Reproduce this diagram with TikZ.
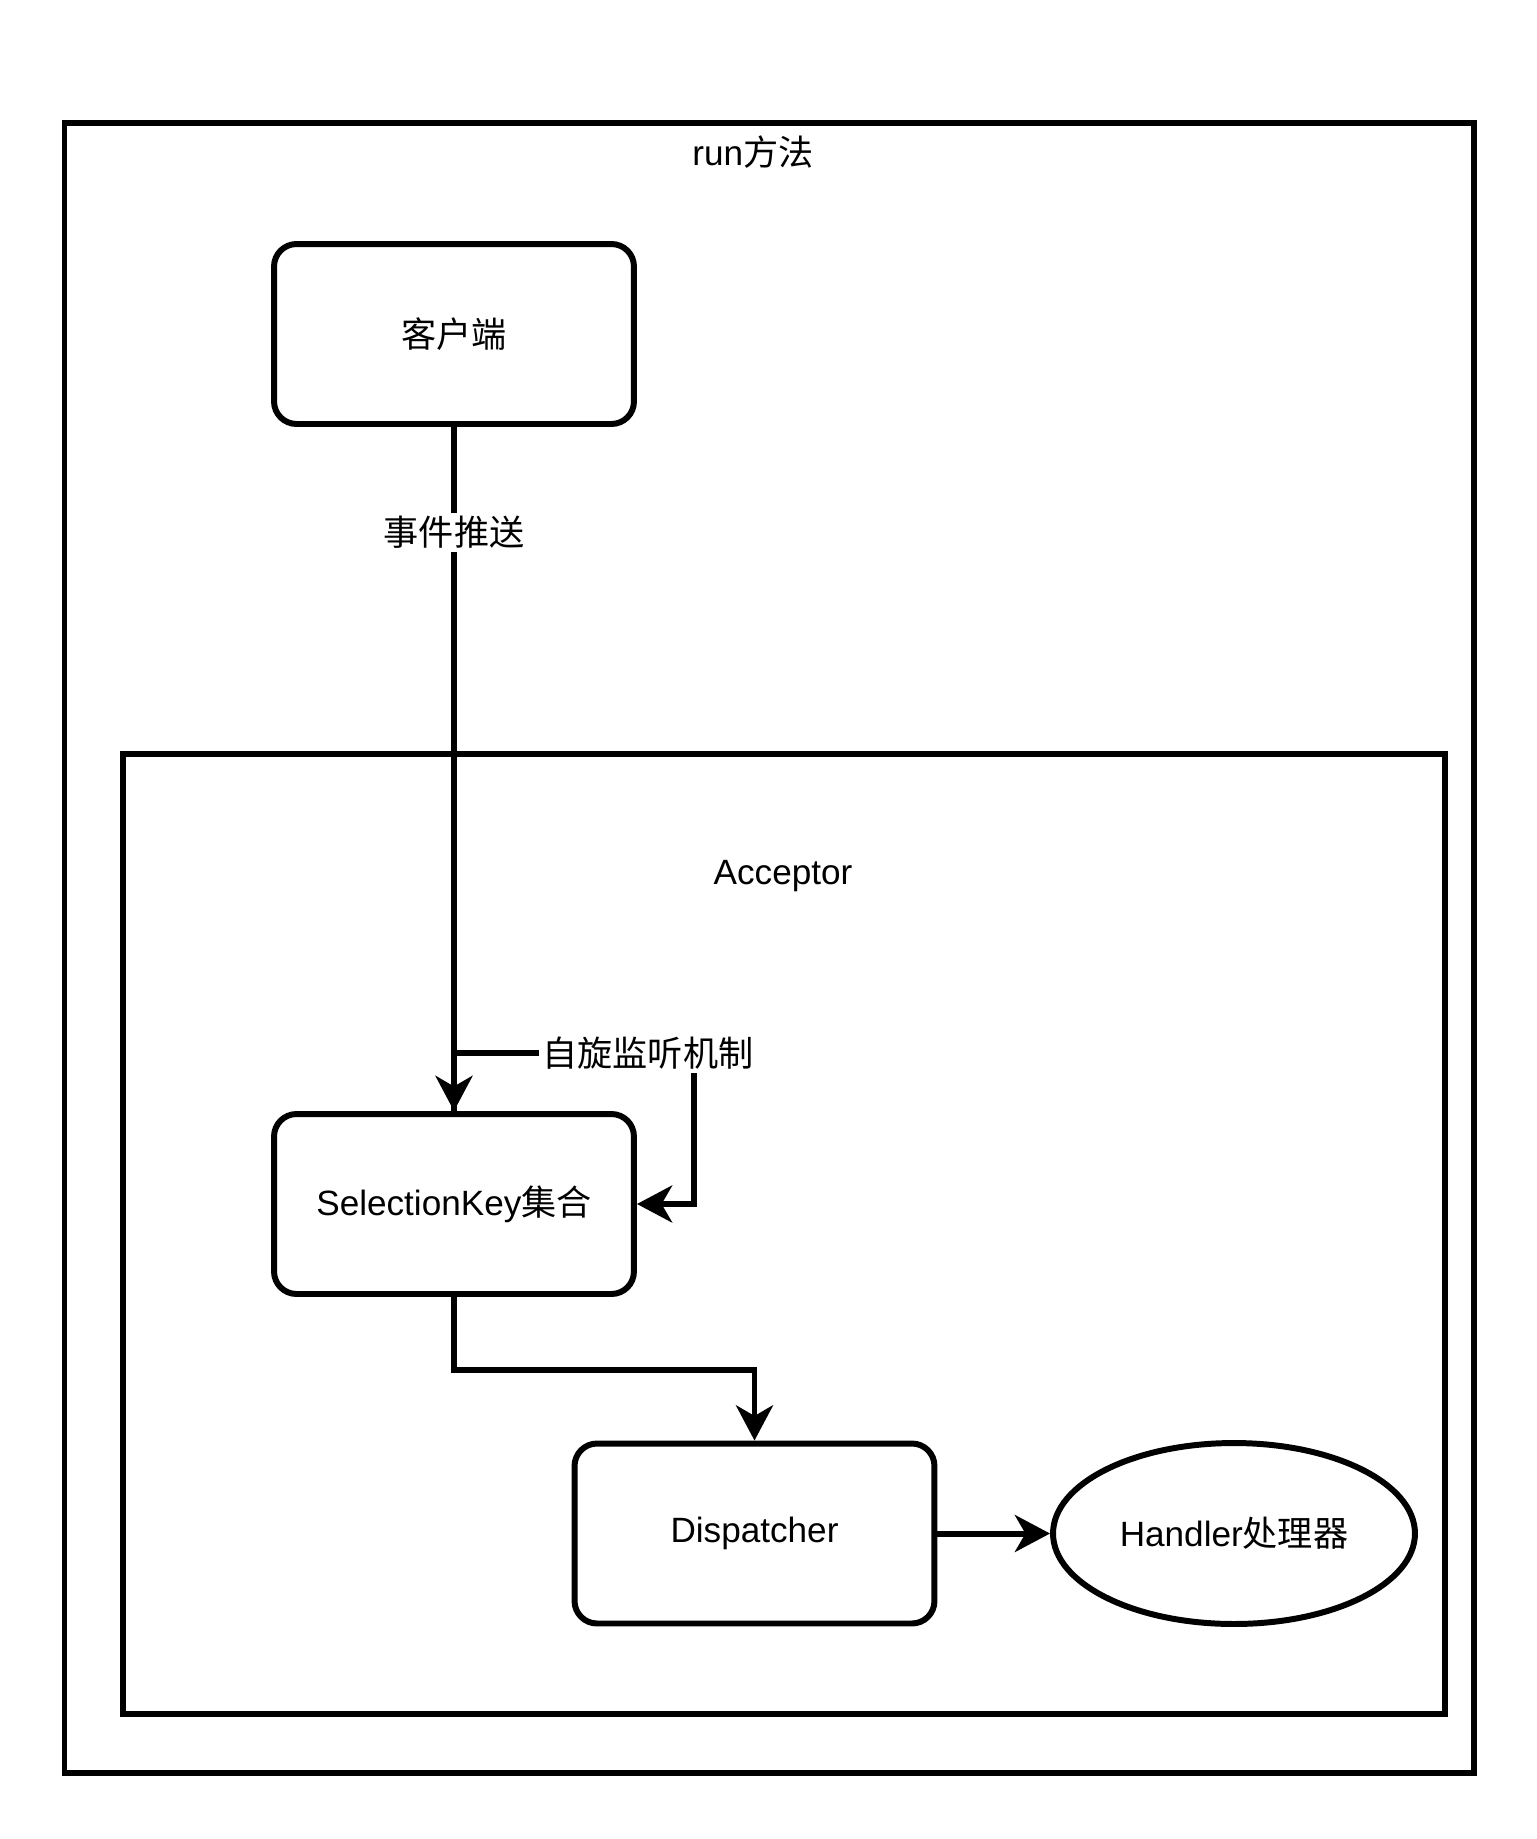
\documentclass[tikz,border=0pt]{standalone}
\usepackage{fontspec}
\setmainfont{Liberation Sans}
\newfontfamily\cjk{Noto Sans CJK SC}
\usetikzlibrary{arrows.meta,shapes.geometric}
\tikzset{
  frame/.style={draw, line width=3.4pt},
  box/.style={draw, line width=3.4pt, rounded corners=0.45cm, minimum width=7.2cm, minimum height=3.6cm},
  handler/.style={draw, ellipse, line width=3.4pt, inner sep=0pt, minimum width=7.24cm, minimum height=3.62cm},
  flow/.style={line width=3.4pt, -{Stealth[length=20pt,width=21pt,inset=6pt]}},
  lbl/.style={fill=white, inner sep=2pt}
}
\begin{document}
\begin{tikzpicture}[x=0.02cm, y=-0.02cm, font=\fontsize{20}{24}\selectfont]
      \useasboundingbox (0,0) rectangle (1536,1839);
      \draw[frame] (64.5,123) rectangle (1474,1773);
      \draw[frame] (123,754) rectangle (1444.5,1714);
      \node (run) at (753,152) {run{\cjk 方法}};
      \node (acceptor) at (783,876) {Acceptor};
      \node[box] (client) at (454,334) {{\cjk 客户端}};
      \node[box] (selkey) at (454,1204) {SelectionKey{\cjk 集合}};
      \node[box] (disp) at (754.5,1533.5) {Dispatcher};
      \node[handler] (hdl) at (1234,1533.5) {Handler{\cjk 处理器}};
      \coordinate (spin) at (694,1053);
      \begin{scope}[flow]
        \draw (client.south) -- node[lbl, pos=0.154] {\cjk 事件推送} (selkey.north);
        \draw (selkey.north) |- node[lbl, pos=0.904] {\cjk 自旋监听机制} (spin) |- (selkey.east);
        \draw (selkey.south) -- ++(0,73) -| (disp.north);
        \draw (disp.east) -- (hdl.west);
      \end{scope}
    \end{tikzpicture}
\end{document}
